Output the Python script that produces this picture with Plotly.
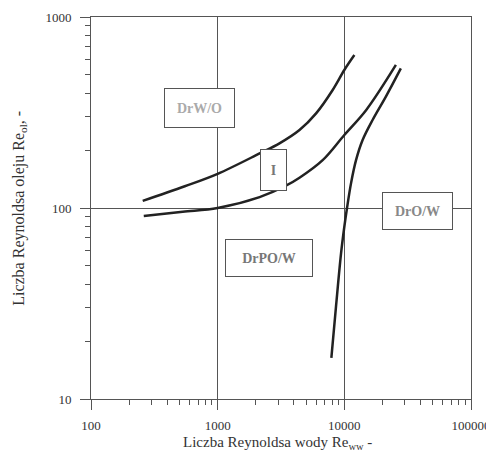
import plotly.graph_objects as go

# Boundary curves (Re_w, Re_ol)
upper_x = [256, 550, 1000, 2143, 3076, 4426, 5984, 8091, 10000, 12000]
upper_y = [109, 130, 151, 193, 218, 256, 313, 415, 528, 632]

lower_x = [261, 530, 1000, 2143, 3400, 4426, 6745, 10000, 14890, 25530]
lower_y = [90.8, 95.5, 100, 114, 130, 144, 178, 241, 326, 561]

steep_x = [7900, 8590, 9420, 10000, 10500, 11300, 12370, 13940, 16710, 21280, 27930]
steep_y = [16.4, 30.4, 57.9, 79.8, 100, 135, 178, 227, 289, 383, 538]

x_tickvals = [100, 1000, 10000, 100000]
x_ticktext = ["100", "1000", "10000", "100000"]
y_tickvals = [10, 100, 1000]
y_ticktext = ["10", "100", "1000"]

region_labels = ["DrW/O", "I", "DrPO/W", "DrO/W"]
x_title = "Liczba Reynoldsa wody Re<sub>ww</sub> -"
y_title = "Liczba Reynoldsa oleju Re<sub>ol</sub>, -"

x_minor = [d * k for d in x_tickvals[:-1] for k in range(2, 10)]
y_minor = [d * k for d in y_tickvals[:-1] for k in range(2, 10)]

FONT = "Liberation Serif"
AX = "#555555"
TXT = "#333333"

fig = go.Figure()
for xs, ys in [(upper_x, upper_y), (lower_x, lower_y), (steep_x, steep_y)]:
    fig.add_trace(go.Scatter(x=xs, y=ys, mode="lines",
                             line=dict(color="#222222", width=2.5, shape="spline", smoothing=1.0),
                             showlegend=False, hoverinfo="skip"))

# region label boxes: (label, log x, log y, width, height, text color)
boxes = [
    (region_labels[0], 2.854, 2.524, 69, 38, "#aaaaaa"),
    (region_labels[1], 3.437, 2.199, 25, 40, "#777777"),
    (region_labels[2], 3.409, 1.738, 86, 36, "#777777"),
    (region_labels[3], 4.579, 1.984, 69, 36, "#888888"),
]
for txt, lx, ly, w, h, c in boxes:
    fig.add_annotation(x=lx, y=ly, xref="x", yref="y", text="<b>" + txt + "</b>",
                       showarrow=False, width=w, height=h, borderpad=0,
                       bordercolor="#555555", borderwidth=1, bgcolor="white",
                       font=dict(family=FONT, size=14, color=c))

# axis titles as paper annotations
fig.add_annotation(x=0.49, y=-0.086, xref="paper", yref="paper", text=x_title,
                   showarrow=False, xanchor="center", yanchor="top",
                   font=dict(family=FONT, size=15, color=TXT))
fig.add_annotation(x=-0.19, y=0.5, xref="paper", yref="paper", text=y_title,
                   showarrow=False, xanchor="center", yanchor="middle", textangle=-90,
                   font=dict(family=FONT, size=16, color=TXT))

# the page adds an 8px body margin, so the figure is sized to compensate
fig.update_layout(
    width=486, height=444,
    margin=dict(l=83, r=23, t=9, b=53),
    plot_bgcolor="white", paper_bgcolor="white",
    font=dict(family=FONT, size=13, color=TXT),
    xaxis=dict(type="log", range=[2, 5], tickmode="array", tickvals=x_tickvals, ticktext=x_ticktext,
               automargin=False,
               showline=True, linecolor=AX, linewidth=1, mirror=True,
               ticks="outside", ticklen=10, tickcolor=AX, ticklabelstandoff=4,
               showgrid=True, gridcolor=AX, gridwidth=1, zeroline=False,
               tickfont=dict(family=FONT, size=13, color=TXT),
               minor=dict(tickmode="array", tickvals=x_minor, ticks="outside", ticklen=5,
                          tickcolor=AX, showgrid=False)),
    yaxis=dict(type="log", range=[1, 3], tickmode="array", tickvals=y_tickvals, ticktext=y_ticktext,
               automargin=False,
               showline=True, linecolor=AX, linewidth=1, mirror=True,
               ticks="outside", ticklen=10, tickcolor=AX, ticklabelstandoff=6,
               showgrid=True, gridcolor=AX, gridwidth=1, zeroline=False,
               tickfont=dict(family=FONT, size=13, color=TXT),
               minor=dict(tickmode="array", tickvals=y_minor, ticks="outside", ticklen=5,
                          tickcolor=AX, showgrid=False)),
)

fig.write_html("out.html")
